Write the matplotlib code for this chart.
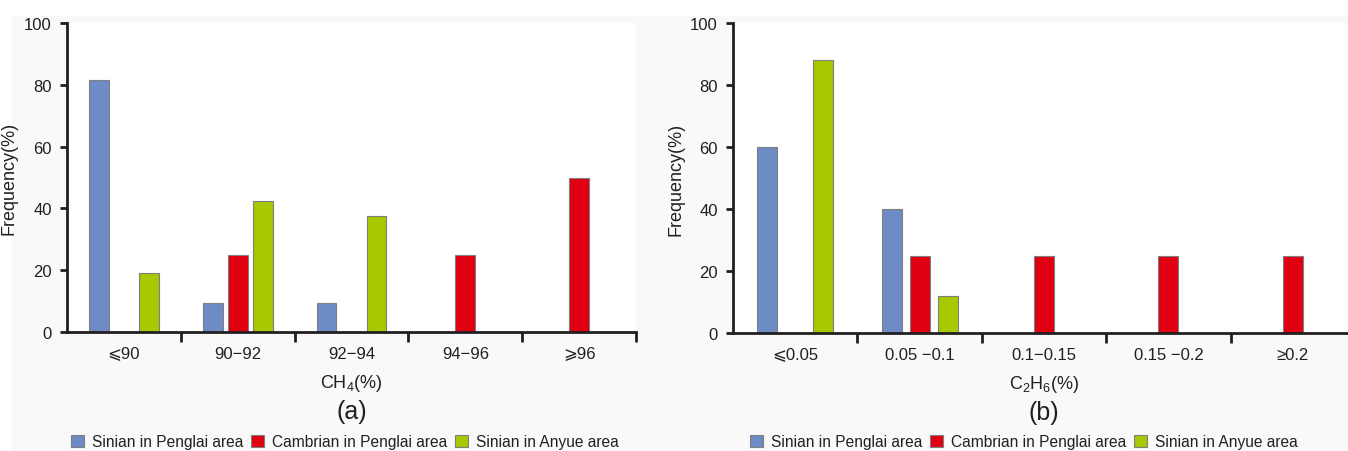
import numpy as np
import matplotlib
matplotlib.use("Agg")
import matplotlib.pyplot as plt
from matplotlib.patches import Rectangle

plt.rcParams['font.family'] = ['Liberation Sans', 'DejaVu Sans']
plt.rcParams['mathtext.fontset'] = 'custom'
plt.rcParams['mathtext.rm'] = 'Liberation Sans'
plt.rcParams['mathtext.it'] = 'Liberation Sans'

# categories
ch4_bins = ['⩽90', '90−92', '92−94', '94−96', '⩾96']
c2h6_bins = ['⩽0.05', '0.05 −0.1', '0.1−0.15', '0.15 −0.2', '≥0.2']

series = ['Sinian in Penglai area', 'Cambrian in Penglai area', 'Sinian in Anyue area']
colors = ['#6d8bc4', '#e00012', '#a8c800']

# frequency (%) of CH4 classes
ch4_penglai_sinian = [81.5, 9.5, 9.3, 0, 0]
ch4_penglai_cambrian = [0, 25, 0, 25, 50]
ch4_anyue_sinian = [19, 42.5, 37.5, 0, 0]

# frequency (%) of C2H6 classes
c2h6_penglai_sinian = [60, 40, 0, 0, 0]
c2h6_penglai_cambrian = [0, 25, 25, 25, 25]
c2h6_anyue_sinian = [88, 12, 0, 0, 0]

txt = '#231f20'
W, H = 1348, 452
fig = plt.figure(figsize=(W / 100, H / 100), dpi=100, facecolor='white')
fig.patches.append(Rectangle((12 / W, 0), 1, 1 - 17 / H, transform=fig.transFigure,
                             facecolor='#f9f9f9', edgecolor='none', zorder=-10))


def panel(rect, labels, data, offset, width, xlabel, tag, ylab_x):
    ax = fig.add_axes(rect)
    ax.set_facecolor('white')
    x = np.arange(len(labels)) + 0.5
    for k, (vals, c) in enumerate(zip(data, colors)):
        ax.bar(x + (k - 1) * offset, vals, width, color=c, edgecolor='#7f7f7f',
               linewidth=0.8, label=series[k], zorder=2)
    ax.set_xlim(0, len(labels))
    ax.set_ylim(0, 100)
    ax.set_yticks(range(0, 101, 20))
    ax.set_xticks(np.arange(1, len(labels) + 1))
    ax.set_xticklabels([])
    ax.set_xticks(x, minor=True)
    ax.set_xticklabels(labels, minor=True)
    ax.tick_params(axis='x', which='major', direction='out', length=7, width=2, color='#231f20')
    ax.tick_params(axis='x', which='minor', length=0, pad=10, labelsize=12, labelcolor=txt)
    ax.tick_params(axis='y', direction='out', length=5, width=2, color='#231f20',
                   pad=6, labelsize=12, labelcolor=txt)
    for s in ['top', 'right']:
        ax.spines[s].set_visible(False)
    for s in ['left', 'bottom']:
        ax.spines[s].set_linewidth(2)
        ax.spines[s].set_color('#231f20')
    ax.set_ylabel('Frequency(%)', fontsize=13, color=txt)
    ax.yaxis.set_label_coords(ylab_x, 0.5)
    ax.set_xlabel(xlabel, fontsize=13, color=txt, labelpad=8)
    ax.text(0.5, -0.256, tag, transform=ax.transAxes, ha='center', va='center',
            fontsize=18, color=txt)
    return ax


axa = panel([67 / W, 1 - 333 / H, 569 / W, 309 / H], ch4_bins,
            [ch4_penglai_sinian, ch4_penglai_cambrian, ch4_anyue_sinian],
            0.22, 0.175, r'$\mathrm{CH_4}$(%)', '(a)', (18 - 67) / 569)
axb = panel([733 / W, 1 - 334 / H, 622 / W, 310 / H], c2h6_bins,
            [c2h6_penglai_sinian, c2h6_penglai_cambrian, c2h6_anyue_sinian],
            0.225, 0.16, r'$\mathrm{C_2H_6}$(%)', '(b)', (684 - 733) / 622)

for ax, cx in [(axa, 345 / W), (axb, 1024 / W)]:
    h, l = ax.get_legend_handles_labels()
    fig.legend(h, l, loc='center', bbox_to_anchor=(cx, 1 - 443 / H), ncol=3,
               frameon=False, fontsize=11.2, handlelength=0.85, handleheight=0.85,
               handletextpad=0.5, columnspacing=0.5, labelcolor=txt,
               borderaxespad=0, borderpad=0)

fig.savefig('out.png', dpi=100, facecolor=fig.get_facecolor())
